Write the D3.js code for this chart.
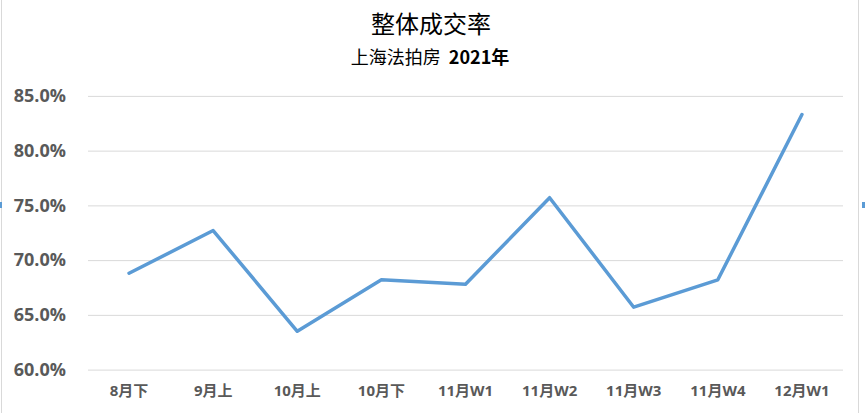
<!DOCTYPE html>
<html><head><meta charset="utf-8">
<script src="https://cdn.jsdelivr.net/npm/d3@7"></script>
<style>body{margin:0;background:#fff;}svg{display:block;}</style>
</head><body>
<svg id="c" width="865" height="413"></svg>
<script>
const categories = ["8月下","9月上","10月上","10月下","11月W1","11月W2","11月W3","11月W4","12月W1"];
const values = [0.688,0.727,0.635,0.682,0.678,0.757,0.657,0.682,0.833];
const yTicks = [0.60,0.65,0.70,0.75,0.80,0.85];
const title = "整体成交率";
const subtitleCn = "上海法拍房  ";
const subtitleYear = "2021年";

const svg = d3.select("#c");
const W = 865, H = 413;
const m = {left: 87, right: 844, top: 95.9, bottom: 369.6};

svg.append("rect").attr("x",1.5).attr("y",-2).attr("width",857).attr("height",H+4)
  .attr("fill","#fff").attr("stroke","#d9d9d9").attr("stroke-width",1);

const x = d3.scaleBand().domain(categories).range([m.left, m.right]);
const y = d3.scaleLinear().domain([0.60,0.85]).range([m.bottom, m.top]);

const fontStack = "'Open Sans','Noto Sans CJK SC',sans-serif";

// gridlines
const gy = svg.append("g").attr("transform",`translate(${m.left},0)`)
  .call(d3.axisLeft(y).tickValues(yTicks).tickSize(-(m.right-m.left-2)).tickFormat(d3.format(".1%")));
gy.select(".domain").remove();
gy.selectAll(".tick line").attr("stroke","#d9d9d9").attr("stroke-width",1).attr("transform","translate(1,0)");
gy.selectAll(".tick text").attr("fill","#595959").attr("font-family",fontStack)
  .attr("font-weight","bold").attr("font-size","18px").attr("x",-21);

// x axis labels
const gx = svg.append("g").attr("transform",`translate(0,${m.bottom})`)
  .call(d3.axisBottom(x).tickSize(0).tickPadding(16));
gx.select(".domain").remove();
gx.selectAll(".tick text").attr("fill","#595959").attr("font-family",fontStack)
  .attr("font-weight","bold").attr("font-size","15px");

// line
const line = d3.line().x((d,i)=>x(categories[i])+x.bandwidth()/2).y(d=>y(d));
svg.append("path").datum(values).attr("d",line).attr("fill","none")
  .attr("stroke","#5b9bd5").attr("stroke-width",3.5).attr("stroke-linejoin","round").attr("stroke-linecap","round");

// titles
svg.append("text").attr("x",431).attr("y",33).attr("text-anchor","middle")
  .attr("font-family","'Noto Sans CJK SC',sans-serif").attr("font-size","24px").attr("fill","#000").text(title);
const st = svg.append("text").attr("x",430).attr("y",64).attr("text-anchor","middle")
  .attr("font-family","'Noto Sans CJK SC',sans-serif").attr("font-size","18px").attr("fill","#000")
  .style("white-space","pre");
st.append("tspan").text(subtitleCn);
st.append("tspan").attr("font-weight","bold").text(subtitleYear);

// selection handles
svg.append("rect").attr("x",0).attr("y",202).attr("width",2).attr("height",6).attr("fill","#5b9bd5");
svg.append("rect").attr("x",862).attr("y",202).attr("width",3).attr("height",6).attr("fill","#5b9bd5");
</script>
</body></html>
